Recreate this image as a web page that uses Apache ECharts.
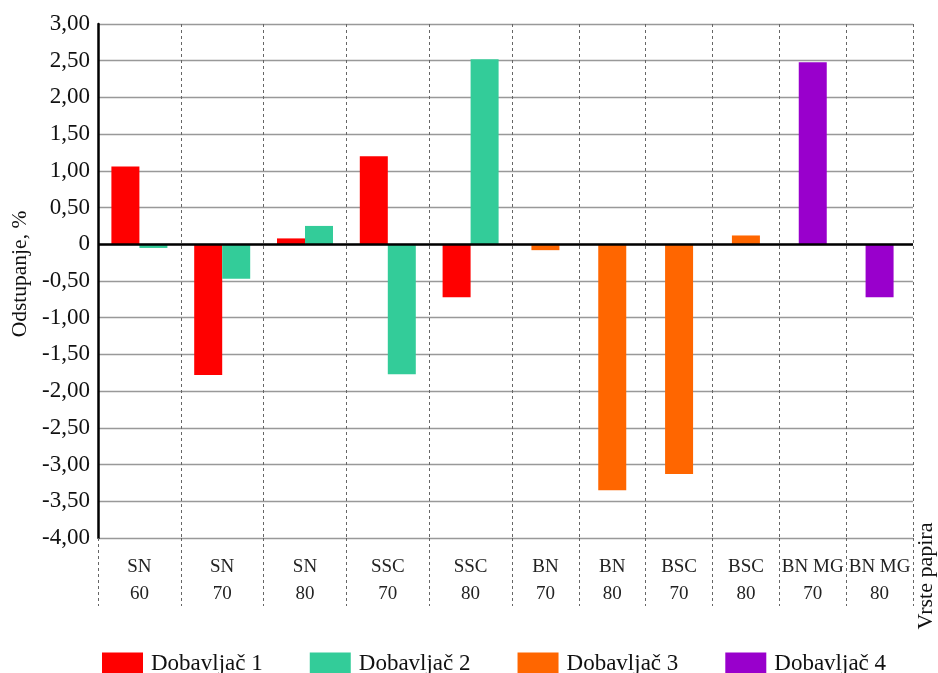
<!DOCTYPE html>
<html>
<head>
<meta charset="utf-8">
<script src="https://cdn.jsdelivr.net/npm/echarts@6/dist/echarts.min.js"></script>
<style>html,body{margin:0;padding:0;background:#fff}#c{width:938px;height:673px}</style>
</head>
<body>
<div id="c"></div>
<script>
// Data
var categories = ['SN\n60','SN\n70','SN\n80','SSC\n70','SSC\n80','BN\n70','BN\n80','BSC\n70','BSC\n80','BN MG\n70','BN MG\n80'];
var dobavljac1 = [1.06, -1.78, 0.08, 1.20, -0.72];
var dobavljac2 = [-0.05, -0.47, 0.25, -1.77, 2.52];
var dobavljac3 = [-0.08, -3.35, -3.13, 0.12, null, null];
var dobavljac4 = [null, null, null, null, 2.48, -0.72];
var seriesNames = ['Dobavljač 1','Dobavljač 2','Dobavljač 3','Dobavljač 4'];
var yAxisTitle = 'Odstupanje, %';
var xAxisTitle = 'Vrste papira';
var colors = ['#ff0000','#33cc99','#ff6600','#9900cc'];
var yMin = -4, yMax = 3, yStep = 0.5;

var cat1 = categories.slice(0,5), cat2 = categories.slice(5);
var FONT = '"Liberation Serif","Times New Roman",serif';

function xAxisCfg(data, idx){
  return {
    type:'category', gridIndex: idx, data:data, boundaryGap:true,
    axisLine:{show:false, onZero:false},
    axisTick:{show:true, length:68, lineStyle:{type:[3,3], color:'#666', width:1}},
    splitLine:{show:true, showMinLine:true, showMaxLine:true, lineStyle:{type:[3,3], color:'#666', width:1}},
    axisLabel:{fontFamily:FONT, fontSize:19, color:'#222', lineHeight:27, margin:16, interval:0}
  };
}
function yAxisCfg(idx, labels){
  return {
    type:'value', gridIndex: idx, min:yMin, max:yMax, interval:yStep,
    axisLine:{show:labels, lineStyle:{color:'#000', width:2.5}},
    axisTick:{show:false},
    axisLabel:{show:labels, fontFamily:FONT, fontSize:23, color:'#111', margin:8,
      formatter:function(v){ return v===0 ? '0' : v.toFixed(2).replace('.', ','); }},
    splitLine:{show:true, lineStyle:{color:'#999', width:1.3}}
  };
}
var zeroLine = {silent:true, symbol:'none', label:{show:false}, lineStyle:{color:'#000', width:2.5, type:'solid'}, data:[{yAxis:0}]};

var chart = echarts.init(document.getElementById('c'), null, {renderer:'canvas'});
chart.setOption({
  animation:false,
  backgroundColor:'#fff',
  grid:[
    {left:98, right:938-512, top:24, bottom:673-538},
    {left:512, right:938-913, top:24, bottom:673-538}
  ],
  xAxis:[xAxisCfg(cat1,0), xAxisCfg(cat2,1)],
  yAxis:[yAxisCfg(0,true), yAxisCfg(1,false)],
  legend:{
    data:seriesNames, left:97, top:647, icon:'rect', itemWidth:41, itemHeight:22, itemGap:47,
    textStyle:{fontFamily:FONT, fontSize:23, color:'#111', padding:[0,0,0,3]}
  },
  graphic:[{
    type:'text', x:926, y:576, rotation:Math.PI/2,
    style:{text:xAxisTitle, font:'22px ' + FONT, fill:'#111', align:'center', verticalAlign:'middle'}
  },{
    type:'text', x:20, y:274, rotation:Math.PI/2,
    style:{text:yAxisTitle, font:'21.5px ' + FONT, fill:'#111', align:'center', verticalAlign:'middle'}
  }],
  series:[
    {name:seriesNames[0], type:'bar', xAxisIndex:0, yAxisIndex:0, data:dobavljac1, barWidth:28, barGap:'0%', itemStyle:{color:colors[0]}, markLine:zeroLine},
    {name:seriesNames[1], type:'bar', xAxisIndex:0, yAxisIndex:0, data:dobavljac2, barWidth:28, barGap:'0%', itemStyle:{color:colors[1]}},
    {name:seriesNames[2], type:'bar', xAxisIndex:1, yAxisIndex:1, data:dobavljac3, barWidth:28, stack:'b', itemStyle:{color:colors[2]}, markLine:zeroLine},
    {name:seriesNames[3], type:'bar', xAxisIndex:1, yAxisIndex:1, data:dobavljac4, barWidth:28, stack:'b', itemStyle:{color:colors[3]}}
  ]
});
</script>
</body>
</html>
